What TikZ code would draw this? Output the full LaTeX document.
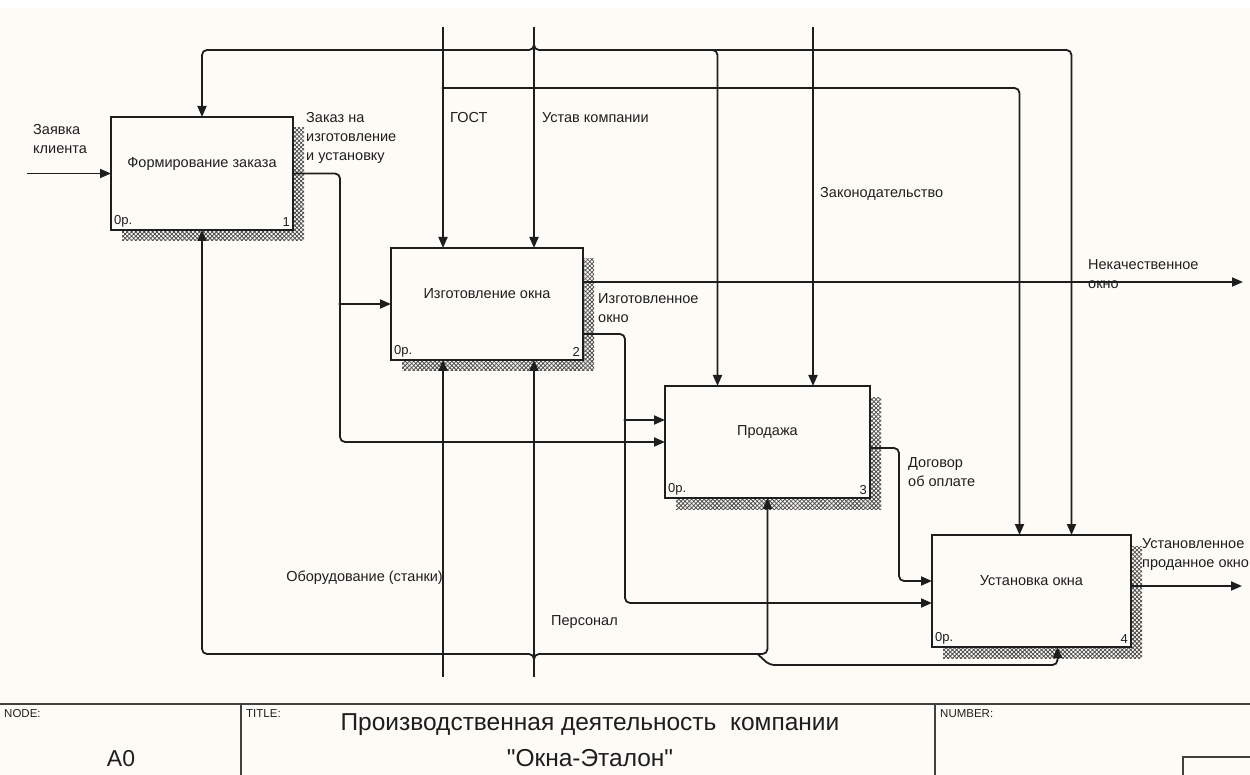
\documentclass[tikz,border=0pt]{standalone}
\usepackage{fontspec}
\setmainfont{Liberation Sans}
\newfontfamily\plainsans{Liberation Sans}
\usetikzlibrary{arrows.meta, calc, patterns.meta, backgrounds, positioning}
\definecolor{paper}{RGB}{253,251,245}
\definecolor{ink}{RGB}{30,30,30}

\begin{document}
\begin{tikzpicture}[x=1pt, y=-1pt,
    func/.style={draw=ink, fill=paper, line width=2.3pt, minimum height=112pt, inner sep=0pt, outer sep=0pt},
    fname/.style={font=\fontsize{14.5}{17}\selectfont, text=ink},
    corner/.style={font=\fontsize{13}{15}\selectfont, text=ink, inner sep=3pt},
    lab/.style={font=\fontsize{14.5}{19}\selectfont, text=ink, align=left, inner sep=0pt},
    arr/.style={draw=ink, line width=1.8pt, rounded corners=5pt, -{Triangle[length=11pt,width=9pt]}},
    shadowfill/.style={pattern={Hatch[angle=45, distance=3pt, line width=0.8pt]}, pattern color=black!70},
    frame/.style={draw=black!75, line width=1.8pt},
    head/.style={font=\fontsize{11.5}{13}\selectfont, text=ink, inner sep=0pt, anchor=north west}]
    \useasboundingbox (0,0) rectangle (1250,775);

    % function boxes
    \node[func, minimum width=182pt, minimum height=113pt] (b1) at (202,173.5) {};
    \node[func, minimum width=192pt, below right=18pt and 98pt of b1] (b2) {};
    \node[func, minimum width=205pt, below right=26pt and 82pt of b2] (b3) {};
    \node[func, minimum width=199pt, below right=37pt and 62pt of b3] (b4) {};

    \node[fname] (t1) at ($(b1)+(0,-10)$) {Формирование заказа};
    \node[fname] (t2) at ($(b2)+(0,-10)$) {Изготовление окна};
    \node[fname] (t3) at ($(b3)+(0,-10)$) {Продажа};
    \node[fname] (t4) at ($(b4)+(0,-10)$) {Установка окна};

    \foreach \b/\k in {b1/1, b2/2, b3/3, b4/4} {
        \node[corner, anchor=south west] (op\k) at (\b.south west) {0р.};
        \node[corner, anchor=south east] (nr\k) at (\b.south east) {\k};
    }

    % inputs and outputs
    \coordinate (zin) at ($(b1.west)+(-84,0)$);
    \draw[arr] (zin) -- (b1.west);

    \coordinate (j1) at ($(b2.west)+(-51,0)$);
    \draw[arr] (b1.east) -| (j1) |- (b3.west);
    \draw[arr] (j1) -- (b2.west);

    \coordinate (o2a) at ($(b2.east)+(0,-22)$);
    \coordinate (nout) at ($(o2a)+(660,0)$);
    \draw[arr] (o2a) -- (nout);

    \coordinate (o2b) at ($(b2.east)+(0,30)$);
    \coordinate (j2) at ($(b3.west)+(-40,-22)$);
    \coordinate (i4b) at ($(b4.west)+(0,12)$);
    \draw[arr] (o2b) -| (j2) |- (i4b);
    \draw[arr] (j2) -- (j2 -| b3.west);

    \coordinate (o3) at ($(b3.east)+(0,6)$);
    \coordinate (i4a) at ($(b4.west)+(0,-10)$);
    \coordinate (k3) at ($(i4a)+(-33,0)$);
    \draw[arr] (o3) -| (k3) -- (i4a);

    \coordinate (o4) at ($(b4.east)+(0,-5)$);
    \coordinate (uout) at ($(o4)+(111,0)$);
    \draw[arr] (o4) -- (uout);

    % controls
    \coordinate (gtop) at (443,27);
    \coordinate (utop) at (534,27);
    \coordinate (ztop) at (813,27);
    \draw[arr] (gtop) -- (gtop |- b2.north);
    \draw[arr] (utop) -- (utop |- b2.north);
    \draw[arr] (ztop) -- (ztop |- b3.north);

    \coordinate (jg) at (443,88);
    \coordinate (c4a) at ($(b4.north)+(-12,0)$);
    \draw[arr] (jg) -| (c4a);

    \coordinate (ju) at (534,41);
    \coordinate (c4b) at ($(b4.north)+(40,0)$);
    \coordinate (c3a) at ($(b3.north)+(-50,0)$);
    \coordinate (jb) at ($(c3a |- 0,50)+(-12,0)$);
    \draw[arr] (ju) |- (b1.north |- 0,50) -- (b1.north);
    \draw[arr] (ju) |- (c4b |- 0,50) -- (c4b);
    \draw[arr] (jb) -| (c3a);

    % mechanisms
    \coordinate (obot) at (443,677);
    \coordinate (pbot) at (534,677);
    \draw[arr] (obot) -- (obot |- b2.south);
    \draw[arr] (pbot) -- (pbot |- b2.south);

    \coordinate (jp) at (534,662);
    \coordinate (m4) at ($(b4.south)+(26,0)$);
    \coordinate (jm) at ($(b3.south |- 0,654)+(-10,0)$);
    \draw[arr] (jp) |- (b1.south |- 0,654) -- (b1.south);
    \draw[arr] (jp) |- (b3.south |- 0,654) -- (b3.south);
    \draw[arr] (jm) -- ++(12,11) -| (m4);

    \foreach \p in {j1, j2, jg}
        \fill[ink] (\p) circle (1.6pt);

    % arrow labels
    \node[lab, anchor=north west] (lzaj) at (33,124) {Заявка\\клиента};
    \node[lab, anchor=north west] (lzak) at (306,112) {Заказ на\\изготовление\\и установку};
    \node[lab, anchor=north west] (lgost) at (450,112) {ГОСТ};
    \node[lab, anchor=north west] (lust) at (542,112) {Устав компании};
    \node[lab, anchor=north west] (lzakon) at (820,187) {Законодательство};
    \node[lab, anchor=north west] (lnek) at (1088,259) {Некачественное\\окно};
    \node[lab, anchor=north west] (lizg) at (598,293) {Изготовленное\\окно};
    \node[lab, anchor=north west] (ldog) at (908,457) {Договор\\об оплате};
    \node[lab, anchor=north west] (lust2) at (1142,538) {Установленное\\проданное окно};
    \node[lab, anchor=north east] (lobor) at (443,571) {Оборудование (станки)};
    \node[lab, anchor=north west] (lpers) at (551,615) {Персонал};

    % title block
    \draw[frame] (0,704) -- (1252,704);
    \draw[frame] (241,704) -- (241,778);
    \draw[frame] (935,704) -- (935,778);
    \draw[frame] (1183,778) |- (1252,757);
    \node[head] (hnode) at (4,709) {NODE:};
    \node[head] (htitle) at (246,709) {TITLE:};
    \node[head] (hnum) at (940,709) {NUMBER:};
    \node[font=\fontsize{23}{25}\selectfont, text=ink] (nodeid) at (121,759) {A0};
    \node[font=\plainsans\fontsize{24.5}{36}\selectfont, text=ink, align=center] (title) at (590,740)
        {Производственная деятельность\ \ компании\\"Окна-Эталон"};

    \begin{scope}[on background layer]
        \fill[white] (0,0) rectangle (1250,775);
        \fill[paper] (0,8) rectangle (1250,775);
        \foreach \b in {b1, b2, b3, b4}
            \fill[shadowfill] ($(\b.south west)+(11,11)$) rectangle ($(\b.north east)+(11,11)$);
    \end{scope}
\end{tikzpicture}
\end{document}
